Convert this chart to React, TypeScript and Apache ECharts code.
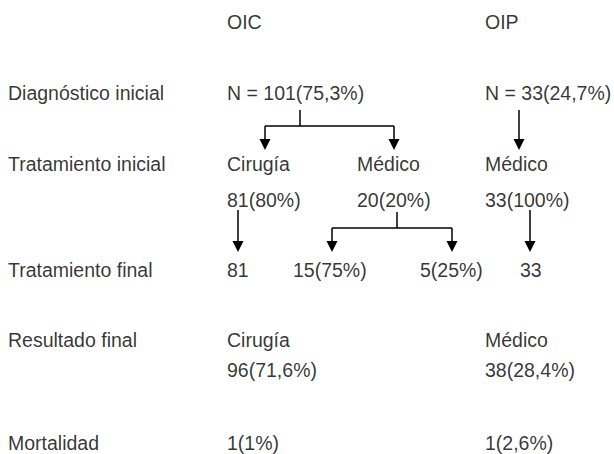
import React, { useEffect, useRef } from "react";
import * as echarts from "echarts";

// ---- Texts (data) ----
const headers = ["OIC", "OIP"];
const rowLabels = [
  "Diagnóstico inicial",
  "Tratamiento inicial",
  "Tratamiento final",
  "Resultado final",
  "Mortalidad",
];
const diagnostico = ["N = 101(75,3%)", "N = 33(24,7%)"];
const tratamientoInicial = ["Cirugía", "Médico", "Médico"];
const tratamientoInicialN = ["81(80%)", "20(20%)", "33(100%)"];
const tratamientoFinal = ["81", "15(75%)", "5(25%)", "33"];
const resultadoFinal = ["Cirugía", "Médico"];
const resultadoFinalN = ["96(71,6%)", "38(28,4%)"];
const mortalidad = ["1(1%)", "1(2,6%)"];

// ---- Layout (diagram coordinates, px on a 614x454 canvas) ----
const W = 614;
const H = 454;
const FONT = 19.5;
const ARROW = 11;
const labelX = 8;
const colTwo = [227, 485];
const colThree = [227, 357, 485];
const colFinal = [227, 293, 420, 520];
const rowY = {
  header: 21.5,
  diag: 93,
  tratIni: 164,
  tratIniN: 200,
  tratFin: 270,
  res: 340,
  resN: 370,
  mort: 443,
};
const rowLabelY = [rowY.diag, rowY.tratIni, rowY.tratFin, rowY.res, rowY.mort];

// connectors: plain segments
const connectors: number[][][] = [
  [[300, 110], [300, 126]],
  [[265, 126], [394, 126]],
  [[397, 212], [397, 228]],
  [[332, 228], [452, 228]],
];
// arrows: [x, yStart, yTip]
const arrows: number[][] = [
  [265, 126, 150],
  [394, 126, 150],
  [519, 110, 150],
  [238, 210, 252],
  [332, 228, 252],
  [452, 228, 252],
  [530, 210, 252],
];

function place(texts: string[], xs: number[], y: number) {
  return texts.map((t, i) => ({ name: t, value: [xs[i], y] }));
}

export default function App() {
  const ref = useRef<HTMLDivElement>(null);
  useEffect(() => {
    if (!ref.current) return;
    const chart = echarts.init(ref.current, null, { renderer: "svg" });
    const textData = [
      ...place(headers, colTwo, rowY.header),
      ...rowLabels.map((t, i) => ({ name: t, value: [labelX, rowLabelY[i]] })),
      ...place(diagnostico, colTwo, rowY.diag),
      ...place(tratamientoInicial, colThree, rowY.tratIni),
      ...place(tratamientoInicialN, colThree, rowY.tratIniN),
      ...place(tratamientoFinal, colFinal, rowY.tratFin),
      ...place(resultadoFinal, colTwo, rowY.res),
      ...place(resultadoFinalN, colTwo, rowY.resN),
      ...place(mortalidad, colTwo, rowY.mort),
    ];
    chart.setOption({
      animation: false,
      backgroundColor: "#ffffff",
      grid: { left: 0, right: 0, top: 0, bottom: 0, containLabel: false },
      xAxis: { type: "value", min: 0, max: W, show: false },
      yAxis: { type: "value", min: 0, max: H, inverse: true, show: false },
      series: [
        {
          type: "lines",
          coordinateSystem: "cartesian2d",
          silent: true,
          symbol: ["none", "none"],
          lineStyle: { color: "#000", width: 1.5, opacity: 1, type: "solid" },
          data: connectors.map((c) => ({ coords: c })),
        },
        {
          type: "lines",
          coordinateSystem: "cartesian2d",
          silent: true,
          symbol: ["none", "triangle"],
          symbolSize: ARROW,
          lineStyle: { color: "#000", width: 1.5, opacity: 1, type: "solid" },
          itemStyle: { color: "#000" },
          data: arrows.map(([x, y0, tip]) => ({
            coords: [
              [x, y0],
              [x, tip - ARROW / 2],
            ],
          })),
        },
        {
          type: "scatter",
          silent: true,
          symbolSize: 0,
          itemStyle: { color: "transparent" },
          label: {
            show: true,
            formatter: "{b}",
            position: "inside",
            align: "left",
            verticalAlign: "middle",
            color: "#000",
            fontFamily: "'Liberation Sans', Arial, Helvetica, sans-serif",
            fontSize: FONT,
          },
          emphasis: { disabled: true },
          data: textData,
        },
      ],
    });
    return () => chart.dispose();
  }, []);
  return (
    <div
      ref={ref}
      style={{ position: "fixed", left: 0, top: 0, width: W, height: H, background: "#fff" }}
    />
  );
}
